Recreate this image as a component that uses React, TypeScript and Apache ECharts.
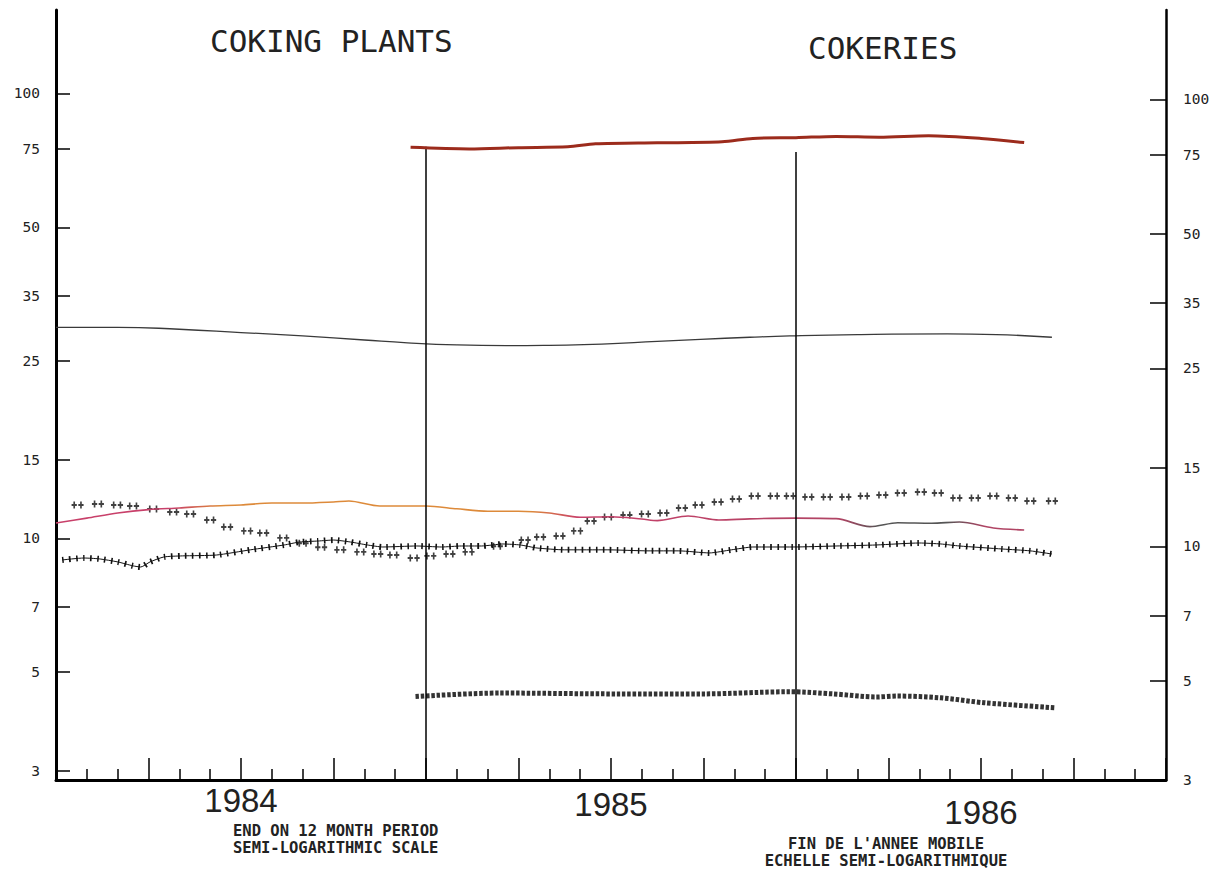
import React, { useEffect, useRef } from "react";
import * as echarts from "echarts";

// ---- tick labels ----
const yTickValues = [3, 5, 7, 10, 15, 25, 35, 50, 75, 100];
const yearLabels = ["1984", "1985", "1986"];
const yearLabelMonths = [6, 18, 30];
const dividerMonths = [12, 24];
const dividerTops = [75.8, 73.8];

// ---- series (x = months since start of 1984, y = value on log scale) ----
const topMonths = [11.5, 13.4, 15.0, 16.6, 17.5, 19.5, 21.6, 22.6, 24.0, 25.3, 26.7, 28.3, 30.0, 31.4];
const topValues = [75.6, 75.0, 75.5, 75.8, 77.0, 77.4, 77.8, 79.2, 79.5, 80.0, 79.7, 80.3, 79.2, 77.5];

const curveMonths = [0, 2, 4, 6, 8, 10, 11.4, 13, 14.6, 16, 17.7, 19.5, 20.9, 22.5, 23.8, 26, 28.9, 30.5, 32.3];
const curveValues = [29.8, 29.8, 29.5, 29.0, 28.5, 27.9, 27.5, 27.2, 27.1, 27.15, 27.3, 27.7, 28.0, 28.3, 28.5, 28.7, 28.8, 28.7, 28.3];

const pinkMonths = [0, 1, 2, 3, 4, 5, 6, 7, 8, 9, 9.5, 10.5, 12, 13, 14, 15, 16, 17, 18, 19, 19.5, 20.5, 21.5, 22.5, 24, 25.3, 26.4, 27.3, 28.4, 29.3, 30.4, 31.4];
const pinkValues = [10.82, 11.1, 11.4, 11.6, 11.7, 11.82, 11.88, 12.0, 12.0, 12.07, 12.13, 11.82, 11.82, 11.65, 11.5, 11.5, 11.4, 11.15, 11.18, 11.05, 10.96, 11.22, 10.99, 11.06, 11.1, 11.07, 10.62, 10.84, 10.81, 10.88, 10.55, 10.44];

const upperMonths = [0.7, 1.36, 1.98, 2.5, 3.15, 3.8, 4.35, 5.0, 5.55, 6.2, 6.72, 7.37, 8.0, 8.6, 9.22, 9.87, 10.42, 10.94, 11.6, 12.14, 12.76, 13.38, 14.3, 15.2, 15.7, 16.33, 16.9, 17.34, 17.9, 18.5, 19.1, 19.7, 20.3, 20.84, 21.46, 22.05, 22.66, 23.28, 23.8, 24.4, 25.0, 25.6, 26.2, 26.8, 27.4, 28.05, 28.6, 29.2, 29.8, 30.4, 31.0, 31.6, 32.3];
const upperValues = [11.88, 11.94, 11.88, 11.82, 11.64, 11.46, 11.34, 10.99, 10.6, 10.39, 10.28, 10.02, 9.75, 9.55, 9.42, 9.32, 9.22, 9.17, 9.03, 9.13, 9.22, 9.32, 9.6, 9.91, 10.07, 10.12, 10.39, 10.94, 11.17, 11.28, 11.34, 11.4, 11.7, 11.88, 12.07, 12.26, 12.45, 12.45, 12.45, 12.38, 12.38, 12.38, 12.45, 12.51, 12.64, 12.71, 12.64, 12.32, 12.32, 12.45, 12.32, 12.13, 12.13];

const lowerMonths = [0.2, 0.9, 1.4, 2.0, 2.5, 2.75, 3.05, 3.5, 4.1, 5.2, 6.3, 7.4, 7.9, 8.5, 9.0, 9.55, 10.1, 10.6, 11.7, 12.5, 13.15, 13.8, 14.5, 15.06, 15.6, 16.5, 17.9, 19.2, 20.2, 21.2, 21.9, 22.6, 23.9, 25.3, 26.6, 28.0, 28.7, 29.3, 30.7, 31.6, 32.3];
const lowerValues = [8.94, 9.03, 8.99, 8.85, 8.67, 8.62, 8.85, 9.08, 9.13, 9.17, 9.42, 9.66, 9.81, 9.86, 9.91, 9.81, 9.66, 9.56, 9.61, 9.56, 9.61, 9.61, 9.71, 9.66, 9.51, 9.42, 9.42, 9.37, 9.37, 9.27, 9.42, 9.56, 9.56, 9.61, 9.66, 9.76, 9.71, 9.61, 9.46, 9.37, 9.22];

const bottomMonths = [11.66, 14.4, 18.2, 21.0, 23.8, 25.2, 26.6, 27.3, 28.7, 30.1, 32.4];
const bottomValues = [4.41, 4.49, 4.47, 4.47, 4.52, 4.47, 4.4, 4.42, 4.38, 4.27, 4.16];

const zip = (xs: number[], ys: number[]) => xs.map((x, i) => [x, ys[i]]);

const LEFT_MIN = 2.863;
const LEFT_MAX = 153.9;
const RIGHT_MIN = 3;
const RIGHT_MAX = 158.5;

const MONO = "'DejaVu Sans Mono', 'Liberation Mono', monospace";
const SANS = "'Liberation Sans', Arial, sans-serif";

const plusPair =
  "path://M0,3.3h7v2.2h-7z M2.4,0.4h2.2v8h-2.2z M9,3.3h7v2.2h-7z M11.4,0.4h2.2v8h-2.2z";

function buildOption(): any {
  const yAxisCommon = (side: "left" | "right", min: number, max: number, tickLen: number, margin: number, lineW: number) => ({
    type: "log",
    logBase: 10,
    position: side,
    min,
    max,
    axisLine: { show: true, onZero: false, lineStyle: { color: "#000", width: lineW } },
    axisTick: { show: true, inside: true, length: tickLen, customValues: yTickValues, lineStyle: { color: "#000", width: 1.5 } },
    axisLabel: {
      customValues: yTickValues,
      margin,
      fontFamily: MONO,
      fontSize: 14.5,
      color: "#222",
      formatter: (v: number) => String(Math.round(v)),
    },
    splitLine: { show: false },
    minorTick: { show: false },
    minorSplitLine: { show: false },
  });

  return {
    animation: false,
    backgroundColor: "#fff",
    grid: { left: 56, right: 55, top: 10, bottom: 92, containLabel: false, outerBoundsMode: "none" },
    xAxis: {
      type: "value",
      min: 0,
      max: 36,
      interval: 3,
      axisLine: { show: true, onZero: false, lineStyle: { color: "#000", width: 3 } },
      axisTick: { show: true, inside: true, length: 22, lineStyle: { color: "#000", width: 1.5 } },
      minorTick: { show: true, splitNumber: 3, length: 11, lineStyle: { color: "#000", width: 1.5 } },
      splitLine: { show: false },
      minorSplitLine: { show: false },
      axisLabel: {
        customValues: yearLabelMonths,
        margin: 0,
        formatter: (v: number) => {
          const i = yearLabelMonths.indexOf(v);
          return i >= 0 ? `{y${i}|${yearLabels[i]}}` : "";
        },
        rich: {
          y0: { fontFamily: SANS, fontSize: 33, color: "#222", lineHeight: 40 },
          y1: { fontFamily: SANS, fontSize: 33, color: "#222", lineHeight: 48 },
          y2: { fontFamily: SANS, fontSize: 33, color: "#222", lineHeight: 64 },
        },
      },
    },
    yAxis: [
      yAxisCommon("left", LEFT_MIN, LEFT_MAX, 14, 16, 3),
      yAxisCommon("right", RIGHT_MIN, RIGHT_MAX, 16, 17, 2.5),
    ],
    graphic: [
      { type: "text", x: 210, y: 25, style: { text: "COKING PLANTS", fontFamily: MONO, fontSize: 31, fill: "#222", verticalAlign: "top" } },
      { type: "text", x: 808, y: 32, style: { text: "COKERIES", fontFamily: MONO, fontSize: 31, fill: "#222", verticalAlign: "top" } },
      {
        type: "text",
        x: 233,
        y: 822,
        style: { text: "END ON 12 MONTH PERIOD\nSEMI-LOGARITHMIC SCALE", fontFamily: MONO, fontSize: 15.5, fontWeight: "bold", lineHeight: 17, fill: "#222", verticalAlign: "top" },
      },
      {
        type: "text",
        x: 886,
        y: 835,
        style: { text: "FIN DE L'ANNEE MOBILE\nECHELLE SEMI-LOGARITHMIQUE", fontFamily: MONO, fontSize: 15.5, fontWeight: "bold", lineHeight: 17, fill: "#222", align: "center", verticalAlign: "top" },
      },
    ],
    series: [
      {
        name: "top",
        type: "line",
        yAxisIndex: 0,
        data: zip(topMonths, topValues),
        symbol: "none",
        smooth: 0.3,
        lineStyle: { color: "#9c2b1c", width: 3 },
        markLine: {
          silent: true,
          symbol: ["none", "none"],
          label: { show: false },
          lineStyle: { color: "#000", width: 1.5, type: "solid" },
          data: dividerMonths.map((m, i) => [{ coord: [m, LEFT_MIN] }, { coord: [m, dividerTops[i]] }]),
        },
        z: 5,
      },
      {
        name: "curve",
        type: "line",
        yAxisIndex: 0,
        data: zip(curveMonths, curveValues),
        symbol: "none",
        smooth: true,
        lineStyle: { color: "#3a3a3a", width: 1.3 },
      },
      {
        name: "pink",
        type: "line",
        yAxisIndex: 0,
        data: zip(pinkMonths, pinkValues),
        symbol: "none",
        smooth: 0.3,
        lineStyle: {
          width: 1.6,
          color: new echarts.graphic.LinearGradient(0, 0, 1, 0, [
            { offset: 0, color: "#c8406a" },
            { offset: 0.12, color: "#c8406a" },
            { offset: 0.17, color: "#dd8a3a" },
            { offset: 0.49, color: "#dd8a3a" },
            { offset: 0.54, color: "#c8406a" },
            { offset: 0.81, color: "#b04464" },
            { offset: 0.85, color: "#555" },
            { offset: 0.92, color: "#555" },
            { offset: 0.96, color: "#b04464" },
            { offset: 1, color: "#b04464" },
          ]),
        },
      },
      {
        name: "upper",
        type: "scatter",
        yAxisIndex: 0,
        data: zip(upperMonths, upperValues),
        symbol: plusPair,
        symbolSize: [12, 7],
        itemStyle: { color: "#111" },
      },
      {
        name: "lower",
        type: "line",
        yAxisIndex: 0,
        data: zip(lowerMonths, lowerValues),
        symbol: "none",
        smooth: 0.2,
        lineStyle: { color: "#111", width: 1 },
      },
      {
        name: "lowerMarks",
        type: "line",
        yAxisIndex: 0,
        data: zip(lowerMonths, lowerValues),
        symbol: "none",
        smooth: 0.2,
        lineStyle: { color: "#111", width: 6, type: [1.6, 5.4] },
      },
      {
        name: "bottom",
        type: "line",
        yAxisIndex: 0,
        data: zip(bottomMonths, bottomValues),
        symbol: "none",
        smooth: 0.3,
        lineStyle: { color: "#333", width: 5, type: [3.5, 1.8] },
      },
    ],
  };
}

export default function App() {
  const ref = useRef<HTMLDivElement>(null);
  useEffect(() => {
    if (!ref.current) return;
    const chart = echarts.init(ref.current, null, { renderer: "svg" });
    chart.setOption(buildOption());
    return () => chart.dispose();
  }, []);
  return (
    <div
      ref={ref}
      style={{ position: "absolute", left: 0, top: 0, width: 1221, height: 872, background: "#fff" }}
    />
  );
}
